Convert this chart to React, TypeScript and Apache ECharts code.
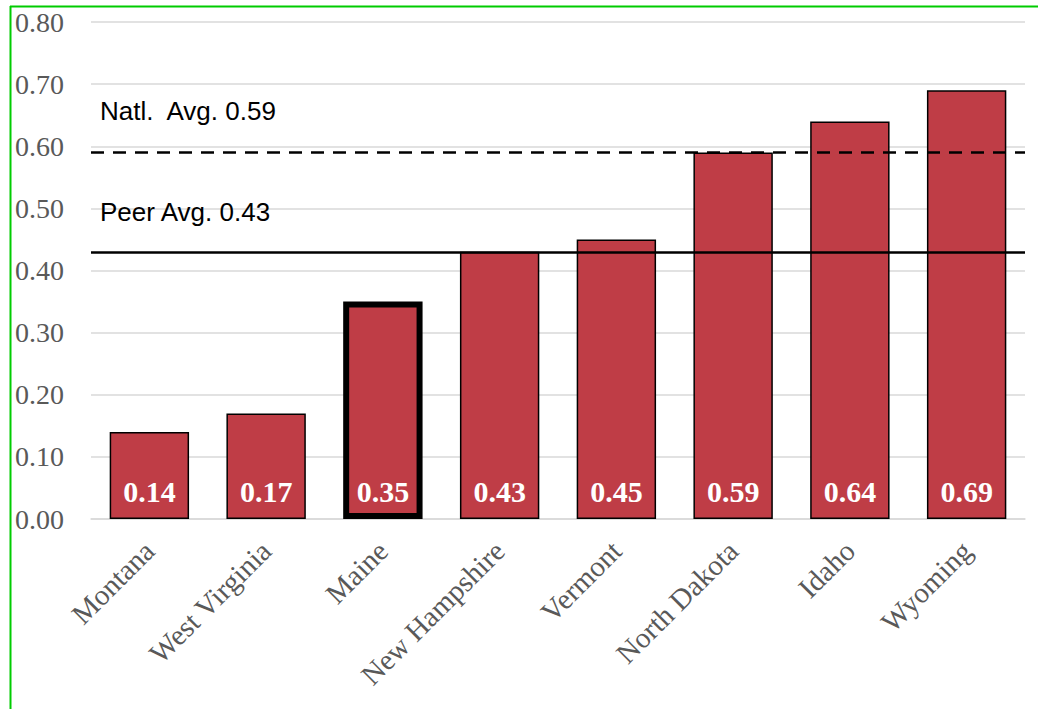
import React, { useEffect, useRef } from "react";
import * as echarts from "echarts";

const categories = ["Montana", "West Virginia", "Maine", "New Hampshire", "Vermont", "North Dakota", "Idaho", "Wyoming"];
const values = [0.14, 0.17, 0.35, 0.43, 0.45, 0.59, 0.64, 0.69];
const highlighted = "Maine";
const natlAvg = 0.59;
const peerAvg = 0.43;
const natlLabel = "Natl.  Avg. 0.59";
const peerLabel = "Peer Avg. 0.43";

const SERIF = "'Liberation Serif', 'Times New Roman', serif";
const SANS = "'Liberation Sans', Arial, sans-serif";

export default function App() {
  const ref = useRef<HTMLDivElement>(null);
  useEffect(() => {
    const chart = echarts.init(ref.current!, null, { renderer: "svg" });
    const barColor = "#BF3D46";
    chart.setOption({
      animation: false,
      backgroundColor: "#ffffff",
      grid: { left: 91, right: 13, top: 22, bottom: 190 },
      xAxis: {
        type: "category",
        data: categories,
        axisLine: { show: true, lineStyle: { color: "#D9D9D9", width: 1.5 } },
        axisTick: { show: false },
        axisLabel: {
          rotate: 45,
          interval: 0,
          margin: 27,
          color: "#595959",
          fontFamily: SERIF,
          fontSize: 29,
        },
      },
      yAxis: {
        type: "value",
        min: 0,
        max: 0.8,
        interval: 0.1,
        axisLine: { show: false },
        axisTick: { show: false },
        splitLine: { lineStyle: { color: "#D9D9D9", width: 1.5 } },
        axisLabel: {
          formatter: (v: number) => v.toFixed(2),
          color: "#595959",
          fontFamily: SERIF,
          fontSize: 28,
          margin: 27,
        },
      },
      series: [
        {
          type: "bar",
          barWidth: "68%",
          data: categories.map((c, i) => ({
            value: values[i],
            itemStyle: {
              color: barColor,
              borderColor: "#000000",
              borderWidth: c === highlighted ? 6 : 1.5,
            },
          })),
          label: {
            show: true,
            position: "insideBottom",
            distance: 13,
            formatter: (p: any) => p.value.toFixed(2),
            color: "#ffffff",
            fontFamily: SERIF,
            fontWeight: "bold",
            fontSize: 30,
          },
          markLine: {
            silent: true,
            symbol: "none",
            data: [
              {
                yAxis: natlAvg,
                lineStyle: { color: "#000000", width: 2.5, type: [13, 9] },
                label: {
                  show: true,
                  position: "insideStartTop",
                  distance: [9, 28],
                  formatter: natlLabel,
                  color: "#000000",
                  fontFamily: SANS,
                  fontSize: 26,
                },
              },
              {
                yAxis: peerAvg,
                lineStyle: { color: "#000000", width: 2.5, type: "solid" },
                label: {
                  show: true,
                  position: "insideStartTop",
                  distance: [9, 27],
                  formatter: peerLabel,
                  color: "#000000",
                  fontFamily: SANS,
                  fontSize: 26,
                },
              },
            ],
          },
        },
      ],
      graphic: [
        { type: "line", shape: { x1: 10.5, y1: 6, x2: 10.5, y2: 709 }, style: { stroke: "#00CC00", lineWidth: 2 } },
        { type: "line", shape: { x1: 10, y1: 6.5, x2: 1038, y2: 6.5 }, style: { stroke: "#00CC00", lineWidth: 2 } },
      ],
    });
    return () => chart.dispose();
  }, []);
  return (
    <div
      ref={ref}
      style={{ position: "absolute", left: 0, top: 0, width: 1038, height: 709 }}
    />
  );
}
